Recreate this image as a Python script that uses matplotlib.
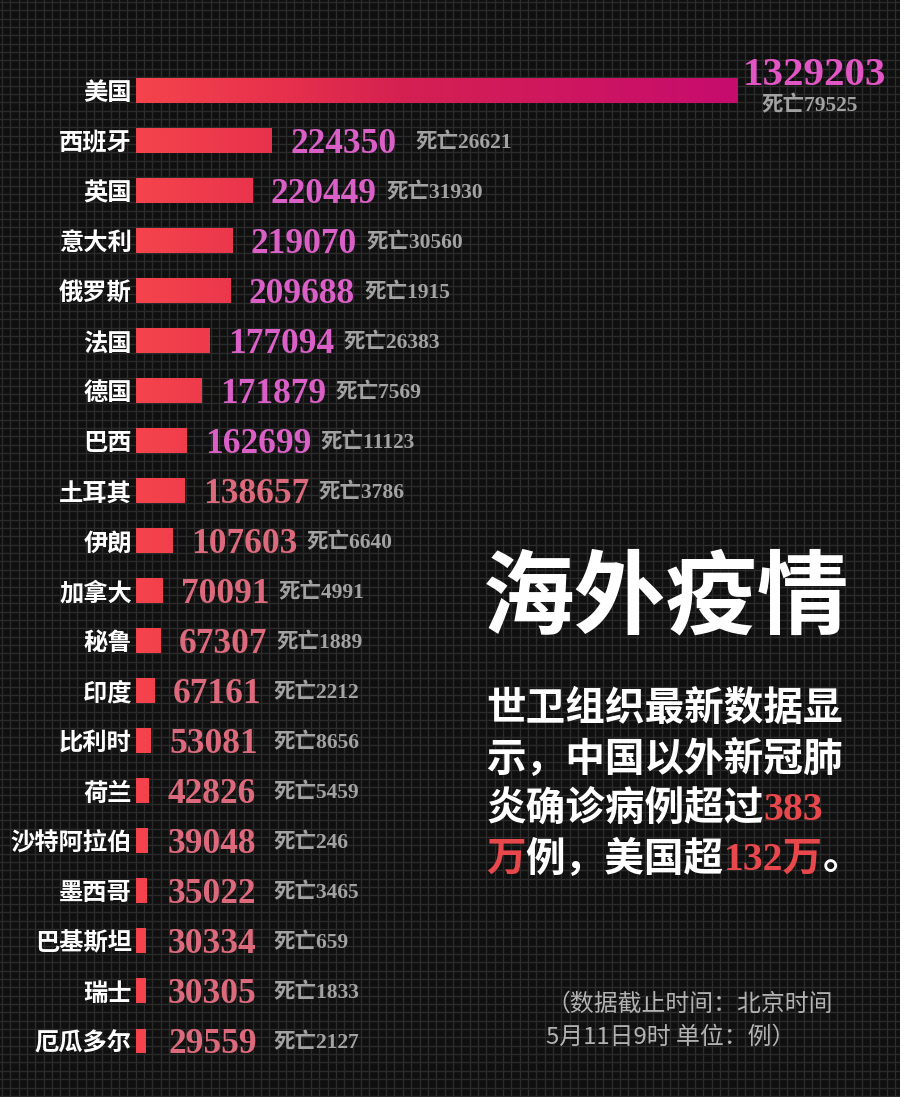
import numpy as np
import matplotlib.pyplot as plt
from matplotlib.colors import LinearSegmentedColormap

W, H = 900, 1097
CJK = ['Noto Sans CJK SC', 'DejaVu Sans']
SERIF = ['Liberation Serif', 'Noto Sans CJK SC', 'DejaVu Sans']

# 数据 (WHO, 5月11日9时)
countries = ['美国', '西班牙', '英国', '意大利', '俄罗斯', '法国', '德国', '巴西', '土耳其', '伊朗',
             '加拿大', '秘鲁', '印度', '比利时', '荷兰', '沙特阿拉伯', '墨西哥', '巴基斯坦', '瑞士', '厄瓜多尔']
cases = [1329203, 224350, 220449, 219070, 209688, 177094, 171879, 162699, 138657, 107603,
         70091, 67307, 67161, 53081, 42826, 39048, 35022, 30334, 30305, 29559]
deaths = [79525, 26621, 31930, 30560, 1915, 26383, 7569, 11123, 3786, 6640,
          4991, 1889, 2212, 8656, 5459, 246, 3465, 659, 1833, 2127]
# 原图条形长度并非严格按比例
bar_len = [602, 136, 117, 97, 95, 74, 66, 51, 49, 37,
           27, 25, 19, 15, 13, 12, 11, 10, 10, 10]

title = '海外疫情'
note_lines = ['（数据截止时间：北京时间', '5月11日9时 单位：例）']

BG = '#0f0f0f'
GRID = '#2b2b2b'
PINK_TOP = '#e255c4'
PINK = '#da5fc6'
SALMON = '#dd6a7c'
RED = '#e8484c'
GREY = '#a2a2a2'

fig = plt.figure(figsize=(W / 100, H / 100), dpi=100, facecolor=BG)
renderer = fig.canvas.get_renderer()

# 背景网格
bg = fig.add_axes([0, 0, 1, 1])
bg.set_facecolor(BG)
bg.set_xlim(0, W)
bg.set_ylim(H, 0)
bg.axis('off')
step = 8.35
for gx in np.arange(2, W, step):
    bg.axvline(gx, color=GRID, lw=1.0, zorder=0)
for gy in np.arange(2, H, step):
    bg.axhline(gy, color=GRID, lw=1.0, zorder=0)

# 条形图区域: x 单位 = 像素
x0 = 136
ax = fig.add_axes([x0 / W, 31 / H, (W - x0) / W, 1000 / H])
ax.set_facecolor('none')
for s in ax.spines.values():
    s.set_visible(False)

y = np.arange(len(countries))
bars = ax.barh(y, bar_len, height=0.5, color='none', edgecolor='none')

cmap = LinearSegmentedColormap.from_list(
    'bar', [(0.0, '#f5444c'), (0.25, '#e6304c'), (0.45, '#d42052'), (1.0, '#c60c6e')])
grad = np.linspace(0, 1, 256).reshape(1, -1)
for b in bars:
    im = ax.imshow(grad, cmap=cmap, extent=(0, bar_len[0], len(y) - 0.5, -0.5),
                   aspect='auto', interpolation='bilinear', zorder=2)
    im.set_clip_path(b)

ax.set_xlim(0, W - x0)
ax.set_ylim(len(y) - 0.5, -0.5)
ax.set_xticks([])
ax.set_yticks(y, countries)
ax.tick_params(axis='y', length=0, pad=3, labelcolor='white', labelsize=17.5)
for lab in ax.get_yticklabels():
    lab.set_fontfamily(CJK)
    lab.set_fontweight('bold')

# 美国: 数字在条形右上方
t = ax.text(bar_len[0] + 76, -0.3, str(cases[0]), color=PINK_TOP, fontsize=29.5,
            fontweight='bold', family=SERIF, ha='center', va='center', zorder=3)
ax.text(bar_len[0] + 72, 0.3, '死亡%d' % deaths[0], color=GREY, fontsize=15.5,
        fontweight='bold', family=SERIF, ha='center', va='center', zorder=3)

for i in range(1, len(countries)):
    col = PINK if i <= 7 else SALMON
    vx = max(bar_len[i] + 18, 32)
    t = ax.text(vx, i + 0.07, str(cases[i]), color=col, fontsize=25.5, fontweight='bold',
                family=SERIF, ha='left', va='center', zorder=3)
    bb = t.get_window_extent(renderer)
    gap = 19 if i == 1 else 9
    dx = max(vx + bb.width + gap, 137)
    ax.text(dx, i + 0.05, '死亡%d' % deaths[i], color=GREY, fontsize=15.5,
            fontweight='bold', family=SERIF, ha='left', va='center', zorder=3)


def draw_runs(x, yy, runs, size):
    # 逐段绘制不同颜色的文字
    for s, c in runs:
        tt = bg.text(x, yy, s, color=c, fontsize=size, fontweight='bold',
                     family=SERIF, ha='left', va='center', zorder=3)
        x += tt.get_window_extent(renderer).width


bg.text(483, 600, title, color='white', fontsize=66, fontweight='heavy',
        family=CJK, ha='left', va='center', zorder=3)

para = [
    [('世卫组织最新数据显', 'white')],
    [('示，中国以外新冠肺', 'white')],
    [('炎确诊病例超过', 'white'), ('383', RED)],
    [('万', RED), ('例，美国超', 'white'), ('132万', RED), ('。', 'white')],
]
for k, runs in enumerate(para):
    draw_runs(486, 710 + 50 * k, runs, 28.5)

for k, line in enumerate(note_lines):
    bg.text(546, 1004 + 33 * k, line, color='#b2b2b2', fontsize=17.2,
            family=CJK, ha='left', va='center', zorder=3)

fig.savefig('out.png', dpi=100, facecolor=BG)
